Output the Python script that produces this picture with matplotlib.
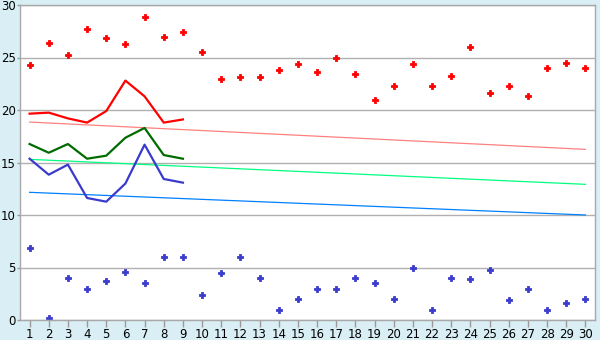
import matplotlib
matplotlib.use("Agg")
import matplotlib.pyplot as plt

# days of the month
days = list(range(1, 31))

# daily max / min points
max_pts = [24.3, 26.4, 25.2, 27.7, 26.9, 26.3, 28.9, 27.0, 27.4, 25.5,
           23.0, 23.1, 23.1, 23.8, 24.4, 23.6, 25.0, 23.4, 21.0, 22.3,
           24.4, 22.3, 23.2, 26.0, 21.6, 22.3, 21.3, 24.0, 24.5, 24.0]
min_pts = [6.9, 0.2, 4.0, 3.0, 3.7, 4.6, 3.5, 6.0, 6.0, 2.4,
           4.5, 6.0, 4.0, 1.0, 2.0, 3.0, 3.0, 4.0, 3.5, 2.0,
           5.0, 1.0, 4.0, 3.9, 4.8, 1.9, 3.0, 1.0, 1.6, 2.0]

# measured lines (first 9 days)
line_days = days[:9]
red_line = [19.65, 19.75, 19.2, 18.8, 19.9, 22.8, 21.3, 18.8, 19.1]
green_line = [16.76, 15.93, 16.76, 15.36, 15.65, 17.36, 18.29, 15.71, 15.36]
blue_line = [15.36, 13.84, 14.8, 11.62, 11.27, 13.0, 16.7, 13.43, 13.08]

# trend lines (start and end values, day 1 and day 30)
trend_days = [1, 30]
red_trend = [18.85, 16.25]
green_trend = [15.3, 12.92]
blue_trend = [12.16, 10.0]

bg = "#d9eff5"
fig = plt.figure(figsize=(6, 3.4), dpi=100, facecolor=bg)
ax = fig.add_axes([20 / 600, 20 / 340, 575 / 600, 315 / 340])
ax.set_facecolor("white")

ax.plot(trend_days, red_trend, color="#ff8080", lw=0.9)
ax.plot(trend_days, green_trend, color="#00ff80", lw=0.9)
ax.plot(trend_days, blue_trend, color="#0080ff", lw=0.9)

ax.plot(line_days, red_line, color="#ff0000", lw=1.6)
ax.plot(line_days, green_line, color="#006c00", lw=1.6)
ax.plot(line_days, blue_line, color="#3a3acc", lw=1.6)

ax.plot(days, max_pts, ls="none", marker="P", ms=4, color="#ff0000", mew=0.6)
ax.plot(days, min_pts, ls="none", marker="P", ms=4, color="#3a3acc", mew=0.6)

ax.set_xlim(0.5, 30.5)
ax.set_ylim(0, 30)
ax.set_xticks(days)
ax.set_yticks(range(0, 31, 5))
ax.yaxis.grid(True, color="#b0b0b0", lw=1)
ax.set_axisbelow(True)
ax.tick_params(axis="x", colors="#999999", labelcolor="black", labelsize=8.5,
               length=5, width=1, direction="out", pad=1)
ax.tick_params(axis="y", colors="#999999", labelcolor="black", labelsize=8.5,
               length=2, width=1, direction="out", pad=1)
for s in ax.spines.values():
    s.set_color("#a8a8a8")
    s.set_linewidth(1)

fig.savefig("out.png", dpi=100, facecolor=bg)
